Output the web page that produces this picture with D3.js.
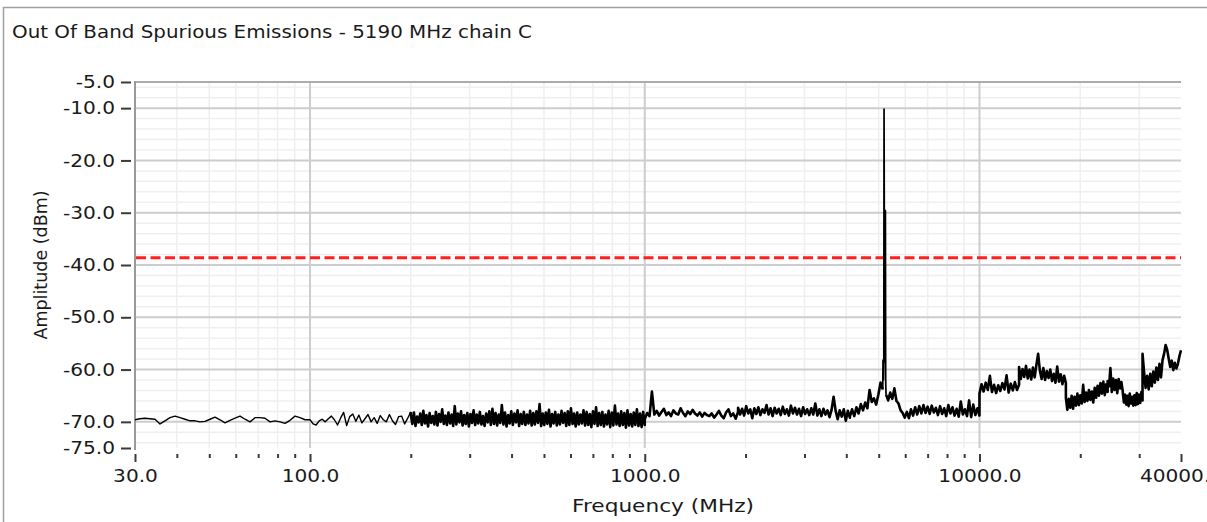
<!DOCTYPE html>
<html>
<head>
<meta charset="utf-8">
<script src="https://cdn.jsdelivr.net/npm/d3@7"></script>
<style>
    html, body { margin: 0; padding: 0; background: #fff; }
    svg { display: block; font-family: "DejaVu Sans", Verdana, sans-serif; }
</style>
</head>
<body>
<svg id="chart" width="1207" height="522"></svg>
<script>
var chartTitle = "Out Of Band Spurious Emissions - 5190 MHz chain C";
var xTitle = "Frequency (MHz)";
var yTitle = "Amplitude (dBm)";

var xTickValues = [30, 100, 1000, 10000, 40000];
var xTickLabels = ["30.0", "100.0", "1000.0", "10000.0", "40000.0"];
var xMinorValues = [40, 50, 60, 70, 80, 90, 200, 300, 400, 500, 600, 700, 800, 900,
    2000, 3000, 4000, 5000, 6000, 7000, 8000, 9000, 20000, 30000];
var yTickValues = [-5, -10, -20, -30, -40, -50, -60, -70, -75];
var yTickLabels = ["-5.0", "-10.0", "-20.0", "-30.0", "-40.0", "-50.0", "-60.0", "-70.0", "-75.0"];
var yMinorValues = [-6, -8, -12, -14, -16, -18, -22, -24, -26, -28, -32, -34, -36, -38,
    -42, -44, -46, -48, -52, -54, -56, -58, -62, -64, -66, -68, -72, -74];

var limitLevel = -38.6;

// sweep bands [start MHz, stop MHz], amplitudes (dBm)
var lowBands = [[30, 100], [100, 200]];
var preBands = [[200, 1000], [1000, 1900], [1900, 4100], [4100, 5140]];
var postBands = [[5260, 10000], [10000, 13130], [13130, 18120], [18120, 24150], [24150, 26800],
    [26800, 30700], [30700, 40000]];

var ampA1 = [-69.6, -69.4, -69.3, -69.4, -69.5, -70.4, -69.8, -69.2, -68.9, -69.2, -69.5, -69.8, -69.8, -70.0,
    -69.9, -69.5, -69.1, -69.6, -70.2, -69.7, -69.3, -68.9, -69.5, -70.0, -69.2, -69.2, -69.3, -70.0,
    -69.8, -70.0, -70.3, -69.7, -68.9, -69.2, -69.6, -69.6];
var ampA2 = [-69.6, -70.4, -70.6, -69.8, -69.5, -70.0, -69.4, -68.9, -69.6, -70.6, -69.3, -68.2, -70.7, -69.0,
    -68.5, -69.9, -68.7, -70.2, -69.4, -68.6, -70.0, -69.2, -70.3, -68.8, -69.6, -70.0, -68.6, -69.8,
    -70.5, -69.0, -68.9, -70.4, -69.3, -68.1];
var ampB = [-68.6, -70.4, -68.2, -70.8, -69.0, -70.1, -68.4, -70.6, -67.9, -70.3,
    -68.7, -70.9, -68.3, -70.2, -68.9, -70.5, -68.1, -70.7, -68.5, -70.0,
    -67.6, -70.4, -68.8, -70.6, -68.2, -70.3, -68.6, -70.8, -67.0, -70.5,
    -68.4, -70.1, -68.0, -70.7, -68.7, -70.4, -68.3, -70.9, -68.5, -70.2,
    -67.8, -70.6, -68.6, -70.3, -68.1, -70.5, -68.9, -70.8, -68.4, -70.1,
    -68.0, -70.6, -67.5, -70.4, -68.3, -70.7, -68.6, -70.2, -66.8, -70.5,
    -68.2, -70.9, -68.7, -70.3, -68.0, -70.6, -68.4, -70.1, -67.8, -70.8,
    -68.5, -70.4, -68.1, -70.6, -68.6, -70.3, -67.9, -70.7, -68.3, -70.5,
    -68.0, -70.2, -66.6, -70.8, -68.4, -70.6, -68.2, -70.4, -67.7, -70.9,
    -68.5, -70.3, -68.1, -70.7, -68.6, -70.5, -67.9, -70.2, -68.3, -70.8,
    -68.0, -70.6, -67.4, -70.4, -68.4, -70.9, -68.2, -70.5, -68.6, -70.3,
    -67.8, -70.7, -68.1, -70.6, -68.5, -71.0, -68.0, -70.4, -67.2, -70.8,
    -68.3, -70.6, -68.1, -70.9, -68.6, -70.5, -67.9, -71.0, -68.2, -70.7,
    -66.9, -70.5, -68.4, -70.8, -68.0, -70.6, -68.3, -71.1, -67.8, -70.7,
    -68.5, -70.9, -68.2, -70.6, -67.6, -70.8, -68.4, -71.0, -68.1, -70.6];
var ampC = [-69.5, -68.3, -68.9, -64.2, -68.6, -67.9, -68.8, -68.1, -67.5, -68.7, -68.2, -68.9, -67.8, -68.4,
    -68.6, -67.4, -68.3, -68.9, -68.0, -68.5, -67.7, -68.4, -68.8, -68.2, -69.0, -68.3, -68.7, -68.9,
    -68.4, -69.2, -68.6, -67.9, -68.8, -69.3, -68.2, -67.6, -68.9, -68.4, -69.4, -68.1];
var ampD = [-67.3, -68.6, -67.5, -68.8, -67.0, -68.4, -67.6, -69.3, -67.4, -68.5, -67.2, -68.7, -67.6, -68.3,
    -66.8, -68.6, -67.4, -68.9, -67.3, -68.4, -67.5, -68.7, -67.1, -68.5, -67.6, -68.8, -66.9, -68.4,
    -67.3, -68.6, -67.5, -68.9, -67.2, -68.5, -67.6, -68.7, -67.4, -68.6, -66.5, -68.8, -67.6, -68.9,
    -67.5, -68.6, -67.8, -69.1, -67.7, -65.2, -67.9, -69.5, -67.8, -69.0, -67.6, -69.8, -67.9, -69.2];
var ampE = [-69.0, -67.6, -68.9, -67.2, -68.4, -66.6, -67.8, -66.3, -67.4, -63.9, -66.2, -65.5, -66.7, -64.8,
    -62.5, -63.8];
var ampF = [-64.8, -65.9, -64.4, -65.6, -63.6, -66.0, -66.5, -67.8, -68.3, -69.2, -68.1, -69.3, -67.6, -68.8,
    -67.2, -68.6, -67.0, -68.4, -66.8, -68.3, -67.1, -68.5, -66.9, -68.2, -67.3, -68.7, -67.0, -68.5,
    -67.4, -68.9, -66.8, -68.4, -67.2, -68.8, -67.5, -69.0, -66.1, -68.6, -67.6, -68.9, -65.9, -69.1,
    -66.7, -68.7, -67.4, -68.8];
var ampG = [-64.6, -62.8, -64.2, -62.5, -63.9, -61.2, -64.3, -62.9, -64.5, -63.0, -64.1, -62.6, -63.8, -61.1,
    -64.4, -62.7, -64.0, -62.4, -63.9, -62.9];
var ampH = [-59.5, -61.8, -59.9, -61.4, -59.3, -61.7, -60.0, -61.9, -59.6, -61.5, -59.1, -57.0, -60.2, -61.8,
    -59.7, -62.0, -60.3, -61.6, -60.0, -62.2, -60.8, -62.5, -59.4, -62.3, -60.9, -62.8, -61.2, -62.6];
var ampI = [-65.4, -67.7, -65.6, -67.3, -65.0, -67.5, -65.2, -66.9, -64.6, -66.8, -64.9, -66.5, -62.9, -66.2,
    -64.4, -66.0, -63.9, -65.8, -64.2, -66.3, -63.5, -65.4, -63.1, -65.0, -62.6, -64.6, -62.3, -64.9,
    -62.8, -64.3];
var ampJ = [-62.2, -63.2, -59.7, -64.3, -61.7, -63.9, -62.0, -64.5, -61.8, -63.6, -62.4, -64.2];
var ampK = [-64.4, -66.3, -64.8, -66.7, -65.0, -67.0, -64.6, -66.5, -65.2, -66.9, -64.9, -66.8, -64.5, -66.6,
    -64.8, -66.4, -64.3, -65.9];
var ampL = [-57.0, -60.5, -63.5, -61.2, -63.8, -60.8, -63.2, -60.4, -62.5, -59.6, -62.0, -58.9, -61.5, -58.2,
    -57.0, -55.3, -56.2, -57.9, -59.5, -58.3, -60.1, -58.7, -59.8, -58.9, -57.4, -56.3];
var lowAmps = [ampA1, ampA2];
var preAmps = [ampB, ampC, ampD, ampE];
var postAmps = [ampF, ampG, ampH, ampI, ampJ, ampK, ampL];

// carrier at 5190 MHz, read point by point
var peakFreqs = [5150, 5165, 5178, 5187, 5196, 5206, 5216, 5226, 5236, 5246];
var peakAmps = [-58.2, -62.0, -58.0, -10.2, -29.5, -58.0, -29.5, -58.5, -29.6, -62.5];

document.addEventListener('DOMContentLoaded', main);

function main() {
    var svg = d3.select("#chart");
    var left = 135, right = 1181, top = 82, bottom = 448;

    var x = d3.scaleLog().domain([30, 40000]).range([left, right]);
    var y = d3.scaleLinear().domain([-75, -5]).range([bottom, top]);

    svg.append("rect").attr("width", 1207).attr("height", 522).attr("fill", "#fff");

    // panel frame
    svg.append("path")
        .attr("d", "M3.5,522V7.5H1207")
        .attr("fill", "none")
        .attr("stroke", "#a0a0a0")
        .attr("stroke-width", 1.5);

    var title = svg.append("text")
        .attr("x", 12)
        .attr("y", 37.5)
        .attr("font-size", 18)
        .attr("fill", "#1a1a1a")
        .text(chartTitle);
    fitText(title, 520);

    // grid
    var grid = svg.append("g");
    grid.selectAll(".vminor")
        .data(xMinorValues)
        .enter().append("line")
        .attr("x1", function (d) { return x(d); })
        .attr("x2", function (d) { return x(d); })
        .attr("y1", top).attr("y2", bottom)
        .attr("stroke", "#efefef").attr("stroke-width", 1.5);
    grid.selectAll(".hminor")
        .data(yMinorValues)
        .enter().append("line")
        .attr("x1", left).attr("x2", right)
        .attr("y1", function (d) { return y(d); })
        .attr("y2", function (d) { return y(d); })
        .attr("stroke", "#efefef").attr("stroke-width", 1.5);
    grid.selectAll(".vmajor")
        .data([100, 1000, 10000])
        .enter().append("line")
        .attr("x1", function (d) { return x(d); })
        .attr("x2", function (d) { return x(d); })
        .attr("y1", top).attr("y2", bottom)
        .attr("stroke", "#cdcdcd").attr("stroke-width", 2);
    grid.selectAll(".hmajor")
        .data(yTickValues.slice(1, 8))
        .enter().append("line")
        .attr("x1", left).attr("x2", right)
        .attr("y1", function (d) { return y(d); })
        .attr("y2", function (d) { return y(d); })
        .attr("stroke", "#cdcdcd").attr("stroke-width", 2);
    grid.append("line")
        .attr("x1", left).attr("x2", right)
        .attr("y1", y(-5)).attr("y2", y(-5))
        .attr("stroke", "#ababab").attr("stroke-width", 2);

    // left axis line
    svg.append("line")
        .attr("x1", left).attr("x2", left)
        .attr("y1", top - 1).attr("y2", bottom + 2)
        .attr("stroke", "#9a9a9a").attr("stroke-width", 2);

    // y axis
    var yAxis = svg.append("g")
        .attr("transform", "translate(131,0)")
        .call(d3.axisLeft(y)
            .tickValues(yTickValues)
            .tickFormat(function (d, i) { return yTickLabels[i]; })
            .tickSize(10)
            .tickPadding(6));
    styleAxis(yAxis);

    // x axis, minor then major ticks
    var xMinor = svg.append("g")
        .attr("transform", "translate(0,454)")
        .call(d3.axisBottom(x).tickValues(xMinorValues).tickSize(4).tickFormat(""));
    styleAxis(xMinor);
    var xAxis = svg.append("g")
        .attr("transform", "translate(0,454)")
        .call(d3.axisBottom(x)
            .tickValues(xTickValues)
            .tickFormat(function (d, i) { return xTickLabels[i]; })
            .tickSize(8)
            .tickPadding(8));
    styleAxis(xAxis);

    var xLab = svg.append("text")
        .attr("x", 663)
        .attr("y", 512)
        .attr("text-anchor", "middle")
        .attr("font-size", 17.5)
        .attr("fill", "#1a1a1a")
        .text(xTitle);
    fitText(xLab, 182);

    svg.append("text")
        .attr("transform", "translate(47," + ((top + bottom) / 2) + ") rotate(-90)")
        .attr("text-anchor", "middle")
        .attr("font-size", 17.5)
        .attr("fill", "#1a1a1a")
        .text(yTitle);

    svg.append("clipPath").attr("id", "plotclip")
        .append("rect")
        .attr("x", left).attr("y", top - 2)
        .attr("width", right - left + 1).attr("height", bottom - top + 4);

    // limit line
    svg.append("line")
        .attr("x1", left + 1).attr("x2", right)
        .attr("y1", y(limitLevel)).attr("y2", y(limitLevel))
        .attr("stroke", "#ff1f1f")
        .attr("stroke-width", 3)
        .attr("stroke-dasharray", "10,4.5");

    // trace: thin low part, dense sweep, thin carrier, dense sweep
    var lowPoints = sweepPoints(lowBands, lowAmps);
    var prePoints = sweepPoints(preBands, preAmps);
    var postPoints = sweepPoints(postBands, postAmps);
    prePoints.unshift(lowPoints[lowPoints.length - 1]);

    var peakPoints = peakFreqs.map(function (f, j) { return [f, peakAmps[j]]; });
    peakPoints.unshift(prePoints[prePoints.length - 1]);
    peakPoints.push(postPoints[0]);

    var line = d3.line()
        .x(function (d) { return x(d[0]); })
        .y(function (d) { return y(d[1]); });

    var trace = svg.append("g").attr("clip-path", "url(#plotclip)");
    [[lowPoints, 1.4], [prePoints, 2.6], [peakPoints, 1.7], [postPoints, 2.6]].forEach(function (p) {
        trace.append("path")
            .datum(p[0])
            .attr("d", line)
            .attr("fill", "none")
            .attr("stroke", "#000")
            .attr("stroke-width", p[1])
            .attr("stroke-linejoin", "round");
    });
}

function sweepPoints(bands, amps) {
    var pts = [];
    bands.forEach(function (band, b) {
        var n = amps[b].length;
        amps[b].forEach(function (a, i) {
            pts.push([band[0] * Math.pow(band[1] / band[0], i / (n - 1)), a]);
        });
    });
    return pts;
}

function styleAxis(g) {
    g.select(".domain").remove();
    g.selectAll(".tick line")
        .attr("stroke", "#3a3a3a")
        .attr("stroke-width", 2);
    g.selectAll(".tick text")
        .attr("font-family", "DejaVu Sans, Verdana, sans-serif")
        .attr("font-size", 17.5)
        .attr("fill", "#1a1a1a")
        .each(function () {
            var w = this.getComputedTextLength();
            if (w > 0) {
                d3.select(this)
                    .attr("textLength", w * 1.15)
                    .attr("lengthAdjust", "spacingAndGlyphs");
            }
        });
}

function fitText(sel, width) {
    sel.attr("textLength", width).attr("lengthAdjust", "spacingAndGlyphs");
}
</script>
</body>
</html>
